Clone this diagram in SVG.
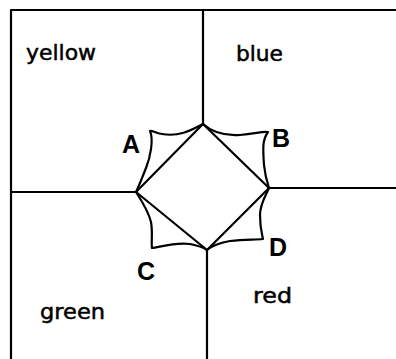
<svg xmlns="http://www.w3.org/2000/svg" width="396" height="359" viewBox="0 0 396 359">
<style>
.ln{fill:none;stroke:#000;stroke-width:2.2;stroke-linecap:round;stroke-linejoin:round}
.w{font-family:"DejaVu Sans",sans-serif;font-size:21px;fill:#000;stroke:#000;stroke-width:0.5}
.l{font-family:"Liberation Sans",Arial,sans-serif;font-size:25px;font-weight:bold;fill:#000}
</style>
<rect width="396" height="359" fill="#fff"/>
<g id="connectors">
<path class="ln" d="M11,359 L11,10 L396,10"/>
<path class="ln" d="M203,10 L203,124"/>
<path class="ln" d="M11,192 L136,192"/>
<path class="ln" d="M269,188 L396,188"/>
<path class="ln" d="M207,250 L207,359"/>
<path class="ln" d="M203,124 L269,188 L207,250 L136,192 Z"/>
<path class="ln" d="M203,124 C190,131 178,137 162,134 C155,133 152,130 150,131 C154,140 150,158 146,168 C142,178 139,186 136,192"/>
<path class="ln" d="M203,124 C212,132 225,136 240,135 C255,134 262,131 268,132 C262,140 263,150 264,165 C265,175 267,182 269,188"/>
<path class="ln" d="M136,192 C141,200 148,210 151,222 C153,234 151,242 152,248 C160,247 175,242 190,244 C200,246 204,248 207,250"/>
<path class="ln" d="M269,188 C266,195 260,204 260,215 C260,228 262,234 263,239 C255,240 245,239 230,241 C218,243 212,246 207,250"/>
</g>
<g id="yellow"><text class="w" x="26" y="60" textLength="70" lengthAdjust="spacingAndGlyphs">yellow</text></g>
<g id="blue"><text class="w" x="236" y="61" textLength="47" lengthAdjust="spacingAndGlyphs">blue</text></g>
<g id="green"><text class="w" x="40" y="319" textLength="65" lengthAdjust="spacingAndGlyphs">green</text></g>
<g id="red"><text class="w" x="253" y="303" textLength="39" lengthAdjust="spacingAndGlyphs">red</text></g>
<g id="A"><text class="l" x="122" y="153">A</text></g>
<g id="B"><text class="l" x="272" y="147">B</text></g>
<g id="C"><text class="l" x="137" y="280">C</text></g>
<g id="D"><text class="l" x="269" y="256">D</text></g>
</svg>
